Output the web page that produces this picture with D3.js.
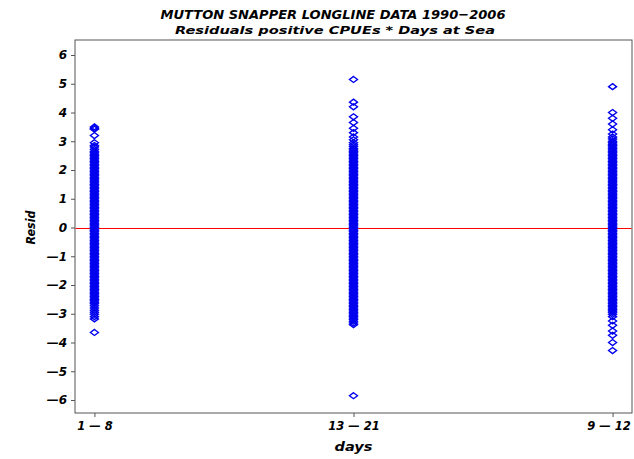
<!DOCTYPE html>
<html><head><meta charset="utf-8">
<script src="https://cdn.jsdelivr.net/npm/d3@7"></script>
<style>body{margin:0;background:#fff}svg{display:block}</style>
</head><body>
<script>
const categories = ["1 \u2014 8", "13 \u2014 21", "9 \u2014 12"];
const yTicks = [-6,-5,-4,-3,-2,-1,0,1,2,3,4,5,6];
const resid_1_8 = [3.5,3.45,3.42,3.2,2.95,2.85,2.8,2.72,2.65,2.6,2.55,2.5,2.45,2.4,2.35,2.3,2.25,2.2,2.15,2.1,2.05,2.0,1.95,1.9,1.85,1.8,1.75,1.7,1.65,1.6,1.55,1.5,1.45,1.4,1.35,1.3,1.25,1.2,1.15,1.1,1.05,1.0,0.95,0.9,0.85,0.8,0.75,0.7,0.65,0.6,0.55,0.5,0.45,0.4,0.35,0.3,0.25,0.2,0.15,0.1,0.05,0.0,-0.05,-0.1,-0.15,-0.2,-0.25,-0.3,-0.35,-0.4,-0.45,-0.5,-0.55,-0.6,-0.65,-0.7,-0.75,-0.8,-0.85,-0.9,-0.95,-1.0,-1.05,-1.1,-1.15,-1.2,-1.25,-1.3,-1.35,-1.4,-1.45,-1.5,-1.55,-1.6,-1.65,-1.7,-1.75,-1.8,-1.85,-1.9,-1.95,-2.0,-2.05,-2.1,-2.15,-2.2,-2.25,-2.3,-2.35,-2.4,-2.45,-2.5,-2.55,-2.6,-2.65,-2.72,-2.8,-2.88,-2.95,-3.02,-3.1,-3.18,-3.65];
const resid_13_21 = [5.15,4.36,4.2,3.85,3.65,3.45,3.3,3.15,3.05,2.95,2.88,2.82,2.75,2.7,2.65,2.6,2.55,2.5,2.45,2.4,2.35,2.3,2.25,2.2,2.15,2.1,2.05,2.0,1.95,1.9,1.85,1.8,1.75,1.7,1.65,1.6,1.55,1.5,1.45,1.4,1.35,1.3,1.25,1.2,1.15,1.1,1.05,1.0,0.95,0.9,0.85,0.8,0.75,0.7,0.65,0.6,0.55,0.5,0.45,0.4,0.35,0.3,0.25,0.2,0.15,0.1,0.05,0.0,-0.05,-0.1,-0.15,-0.2,-0.25,-0.3,-0.35,-0.4,-0.45,-0.5,-0.55,-0.6,-0.65,-0.7,-0.75,-0.8,-0.85,-0.9,-0.95,-1.0,-1.05,-1.1,-1.15,-1.2,-1.25,-1.3,-1.35,-1.4,-1.45,-1.5,-1.55,-1.6,-1.65,-1.7,-1.75,-1.8,-1.85,-1.9,-1.95,-2.0,-2.05,-2.1,-2.15,-2.2,-2.25,-2.3,-2.35,-2.4,-2.45,-2.5,-2.55,-2.6,-2.65,-2.7,-2.75,-2.8,-2.85,-2.9,-2.95,-3.0,-3.05,-3.1,-3.15,-3.2,-3.26,-3.32,-3.38,-5.85];
const resid_9_12 = [4.9,4.0,3.8,3.6,3.4,3.25,3.15,3.08,3.0,2.95,2.9,2.85,2.8,2.75,2.7,2.65,2.6,2.55,2.5,2.45,2.4,2.35,2.3,2.25,2.2,2.15,2.1,2.05,2.0,1.95,1.9,1.85,1.8,1.75,1.7,1.65,1.6,1.55,1.5,1.45,1.4,1.35,1.3,1.25,1.2,1.15,1.1,1.05,1.0,0.95,0.9,0.85,0.8,0.75,0.7,0.65,0.6,0.55,0.5,0.45,0.4,0.35,0.3,0.25,0.2,0.15,0.1,0.05,0.0,-0.05,-0.1,-0.15,-0.2,-0.25,-0.3,-0.35,-0.4,-0.45,-0.5,-0.55,-0.6,-0.65,-0.7,-0.75,-0.8,-0.85,-0.9,-0.95,-1.0,-1.05,-1.1,-1.15,-1.2,-1.25,-1.3,-1.35,-1.4,-1.45,-1.5,-1.55,-1.6,-1.65,-1.7,-1.75,-1.8,-1.85,-1.9,-1.95,-2.0,-2.05,-2.1,-2.15,-2.2,-2.25,-2.3,-2.35,-2.4,-2.45,-2.5,-2.55,-2.6,-2.65,-2.7,-2.75,-2.8,-2.85,-2.9,-2.95,-3.02,-3.1,-3.25,-3.4,-3.6,-3.75,-4.0,-4.28];
const seriesValues = [resid_1_8, resid_13_21, resid_9_12];

const W = 634, H = 459;
const L = 75, R = 632, T = 40, B = 413;
const svg = d3.select("body").append("svg").attr("width", W).attr("height", H);
const font = "'DejaVu Sans', 'Liberation Sans', Arial, sans-serif";

const x = d3.scalePoint().domain(categories).range([L, R]).padding(0.075);
const y = d3.scaleLinear().domain([-6, 6]).range([400, 55]);

// frame
svg.append("rect").attr("x", L).attr("y", T).attr("width", R - L).attr("height", B - T)
  .attr("fill", "none").attr("stroke", "#555").attr("stroke-width", 1);

// y axis
const yAxis = svg.append("g").attr("transform", `translate(${L},0)`)
  .call(d3.axisLeft(y).tickValues(yTicks).tickSize(4).tickPadding(4)
    .tickFormat(d => d < 0 ? "\u2014" + Math.abs(d) : String(d)));
yAxis.select(".domain").remove();
yAxis.selectAll("line").attr("stroke", "#555");
yAxis.selectAll("text").attr("font-family", font).attr("font-weight", "bold")
  .attr("font-style", "italic").attr("font-size", 12).attr("fill", "#000");

// x axis
const xAxis = svg.append("g").attr("transform", `translate(0,${B})`)
  .call(d3.axisBottom(x).tickSize(4).tickPadding(5));
xAxis.select(".domain").remove();
xAxis.selectAll("line").attr("stroke", "#555");
xAxis.selectAll("text").attr("font-family", font).attr("font-weight", "bold")
  .attr("font-style", "italic").attr("font-size", 11.5).attr("fill", "#000")
  .attr("dx", (d, i) => i === categories.length - 1 ? -4 : 0);

// zero reference line
svg.append("line").attr("x1", L + 0.5).attr("x2", R - 0.5)
  .attr("y1", Math.round(y(0)) + 0.5).attr("y2", Math.round(y(0)) + 0.5)
  .style("stroke", "red").style("stroke-width", "1.2px");

// points
const diamond = "M0,-3L4,0L0,3L-4,0Z";
const pts = [];
categories.forEach((c, i) => seriesValues[i].forEach(v => pts.push({c, v})));
svg.append("g").selectAll("path").data(pts).join("path")
  .attr("d", diamond)
  .attr("transform", d => `translate(${x(d.c)},${y(d.v)})`)
  .attr("fill", "none").attr("stroke", "#0000ee").attr("stroke-width", 1.4);

// titles
svg.append("text").attr("x", 333).attr("y", 19).attr("text-anchor", "middle")
  .attr("font-family", font).attr("font-weight", "bold").attr("font-style", "italic")
  .attr("font-size", 13).attr("textLength", 345).attr("lengthAdjust", "spacingAndGlyphs")
  .text("MUTTON SNAPPER LONGLINE DATA 1990\u22122006");
svg.append("text").attr("x", 335).attr("y", 34).attr("text-anchor", "middle")
  .attr("font-family", font).attr("font-weight", "bold").attr("font-style", "italic")
  .attr("font-size", 11).attr("textLength", 320).attr("lengthAdjust", "spacingAndGlyphs")
  .text("Residuals positive CPUEs * Days at Sea");

// axis labels
svg.append("text").attr("transform", `translate(35,${y(0)}) rotate(-90)`)
  .attr("text-anchor", "middle").attr("font-family", font).attr("font-weight", "bold")
  .attr("font-style", "italic").attr("font-size", 13).attr("textLength", 34)
  .attr("lengthAdjust", "spacingAndGlyphs").text("Resid");
svg.append("text").attr("x", x(categories[1])).attr("y", 451).attr("text-anchor", "middle")
  .attr("font-family", font).attr("font-weight", "bold").attr("font-style", "italic")
  .attr("font-size", 12).attr("textLength", 38).attr("lengthAdjust", "spacingAndGlyphs").text("days");
</script>
</body></html>
